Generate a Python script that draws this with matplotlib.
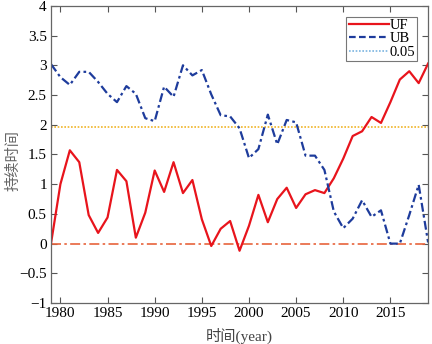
import matplotlib
matplotlib.use("Agg")
import matplotlib.pyplot as plt
from matplotlib.lines import Line2D

plt.rcParams["font.family"] = ["Liberation Serif", "Noto Sans CJK SC"]

years = list(range(1979, 2020))
uf = [0.0, 1.0, 1.57, 1.37, 0.48, 0.18, 0.44, 1.24, 1.05, 0.1,
      0.52, 1.23, 0.87, 1.37, 0.85, 1.07, 0.41, -0.04, 0.25, 0.38,
      -0.12, 0.3, 0.82, 0.36, 0.75, 0.94, 0.6, 0.83, 0.9, 0.85,
      1.1, 1.43, 1.81, 1.89, 2.13, 2.03, 2.38, 2.76, 2.9, 2.7, 3.03]
ub = [3.02, 2.8, 2.67, 2.89, 2.89, 2.72, 2.52, 2.38, 2.65, 2.52,
      2.11, 2.06, 2.64, 2.47, 3.0, 2.83, 2.92, 2.51, 2.16, 2.14,
      1.94, 1.44, 1.59, 2.17, 1.67, 2.08, 2.04, 1.48, 1.48, 1.24,
      0.54, 0.26, 0.42, 0.73, 0.45, 0.56, 0.0, 0.0, 0.48, 0.99, 0.02]
crit = 1.96
legend_labels = ["UF", "UB", "0.05"]

fig = plt.figure(figsize=(4.32, 3.44), dpi=100)
ax = fig.add_axes([0.118, 0.119, 0.873, 0.864])

ax.axhline(0, color="#e8643c", lw=1.2, ls=(0, (6, 2, 1.5, 2)))
ax.axhline(crit, color="#f0b428", lw=1.2, ls=(0, (1, 1)))
ax.plot(years, uf, color="#e8141c", lw=1.6)
ax.plot(years, ub, color="#1e3c9c", lw=1.6, ls=(0, (4, 1.5, 1.2, 1.5)))

ax.set_xlim(1979, 2019)
ax.set_ylim(-1, 4)
ax.set_xticks(range(1980, 2020, 5))
ax.set_yticks([-1, -0.5, 0, 0.5, 1, 1.5, 2, 2.5, 3, 3.5, 4])
ax.set_yticklabels(["\u22121", "\u22120.5", "0", "0.5", "1", "1.5", "2",
                    "2.5", "3", "3.5", "4"])
ax.tick_params(direction="in", top=True, right=True, labelsize=11,
               length=4, color="#555555", pad=3)
for s in ax.spines.values():
    s.set_color("#666666")
    s.set_linewidth(0.9)

ax.set_xlabel("时间(year)", fontsize=11, color="#444444")
ax.set_ylabel("持续时间", fontsize=11, color="#666666")
ax.xaxis.set_label_coords(0.5, -0.083)
ax.yaxis.set_label_coords(-0.08, 0.48)

handles = [Line2D([], [], color="#e8141c", lw=1.6),
           Line2D([], [], color="#1e3c9c", lw=1.6, ls=(0, (3, 1.5))),
           Line2D([], [], color="#7ab4e0", lw=1.2, ls=(0, (1, 1)))]
leg = ax.legend(handles, legend_labels, loc="upper right", fontsize=10.5,
                frameon=True, fancybox=False, edgecolor="#555555",
                borderpad=0.15, labelspacing=0.0, handlelength=2.8,
                handletextpad=0.0, borderaxespad=0.0,
                bbox_to_anchor=(0.971, 0.963))
leg.get_frame().set_linewidth(0.8)

fig.savefig("out.png", dpi=100)
